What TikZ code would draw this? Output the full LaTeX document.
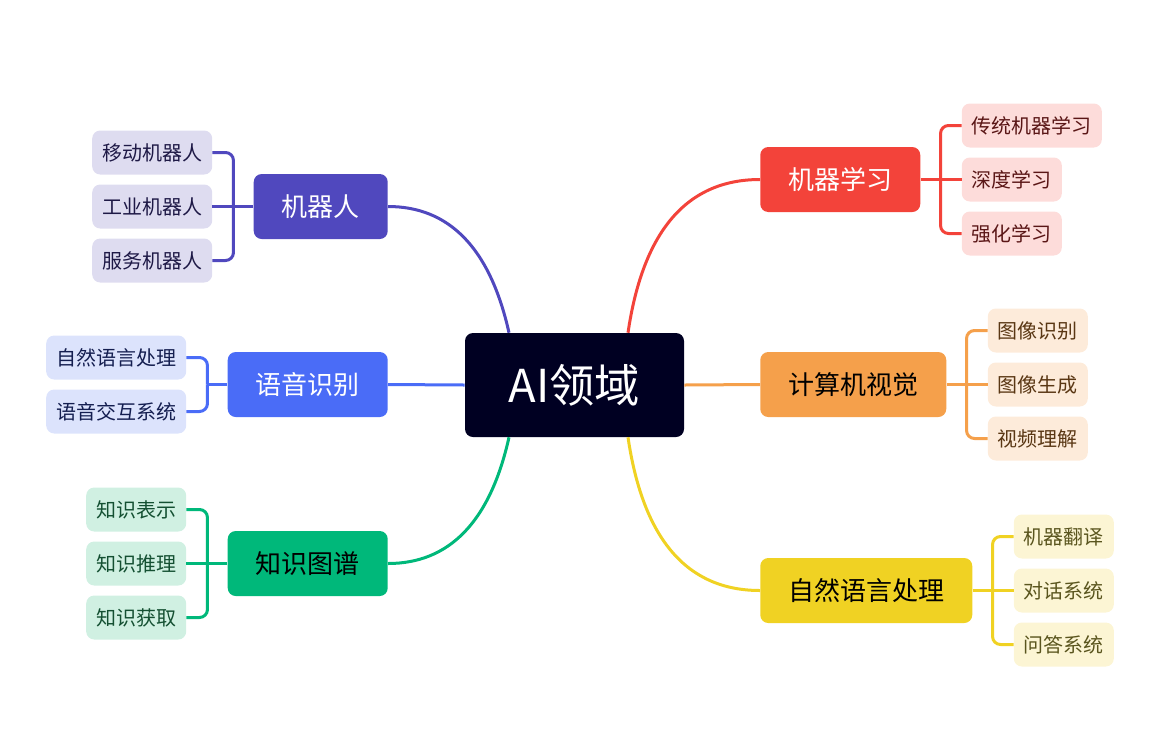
\documentclass[tikz,border=0pt]{standalone}
\usepackage{fontspec}
\setmainfont{Noto Sans CJK SC}
\usetikzlibrary{calc}

\definecolor{aiNavy}{RGB}{0,0,34}
\definecolor{mlRed}{RGB}{243,67,58}
\definecolor{mlLeaf}{RGB}{253,220,218}
\definecolor{mlText}{RGB}{90,22,22}
\definecolor{cvOrange}{RGB}{245,160,75}
\definecolor{cvLeaf}{RGB}{253,235,218}
\definecolor{cvText}{RGB}{90,55,20}
\definecolor{nlpYellow}{RGB}{240,210,35}
\definecolor{nlpLeaf}{RGB}{252,245,212}
\definecolor{nlpText}{RGB}{90,85,30}
\definecolor{rbPurple}{RGB}{80,72,190}
\definecolor{rbLeaf}{RGB}{222,220,240}
\definecolor{rbText}{RGB}{30,25,70}
\definecolor{spBlue}{RGB}{74,108,247}
\definecolor{spLeaf}{RGB}{220,227,252}
\definecolor{spText}{RGB}{20,30,80}
\definecolor{kgGreen}{RGB}{0,184,122}
\definecolor{kgLeaf}{RGB}{208,240,226}
\definecolor{kgText}{RGB}{20,80,50}

\tikzset{
	mainbox/.style={rounded corners=6pt, minimum height=48.75pt, inner xsep=21pt, inner ysep=0pt, font=\fontsize{19.5pt}{23pt}\selectfont},
	leafbox/.style={rounded corners=6pt, minimum height=33pt, inner xsep=7.5pt, inner ysep=0pt, font=\fontsize{15pt}{18pt}\selectfont},
	link/.style={line width=2.25pt},
	bracket/.style={line width=2.25pt, rounded corners=6pt},
}

\begin{document}
\begin{tikzpicture}[x=0.75pt, y=-0.75pt]
			%%%%% START %%%%%
			\useasboundingbox (0,0) rectangle (1166,747);
			
			\node[fill=aiNavy, text=white, rounded corners=6pt, minimum width=164.25pt, minimum height=78pt, font=\fontsize{34pt}{40pt}\selectfont] (ai) at (574.5, 385) {AI领域};
			\coordinate (ai-rb) at ($(ai.north)+(-65.5,0)$);
			\coordinate (ai-ml) at ($(ai.north)+(53.5,0)$);
			\coordinate (ai-kg) at ($(ai.south)+(-65.5,0)$);
			\coordinate (ai-nlp) at ($(ai.south)+(53.5,0)$);
			
			%%%%% right side
			\node[mainbox, fill=mlRed, text=white, anchor=west] (ml) at (760, 179.5) {机器学习};
			\node[mainbox, fill=cvOrange, text=black, anchor=west] (cv) at (760, 384.5) {计算机视觉};
			\node[mainbox, fill=nlpYellow, text=black, anchor=west] (nlp) at (760, 590.5) {自然语言处理};
			
			\node[leafbox, fill=mlLeaf, text=mlText, anchor=west] (ml1) at ($(ml.east)+(41,-54)$) {传统机器学习};
			\node[leafbox, fill=mlLeaf, text=mlText, anchor=west] (ml2) at ($(ml.east)+(41,0)$) {深度学习};
			\node[leafbox, fill=mlLeaf, text=mlText, anchor=west] (ml3) at ($(ml.east)+(41,54)$) {强化学习};
			
			\node[leafbox, fill=cvLeaf, text=cvText, anchor=west] (cv1) at ($(cv.east)+(41,-54)$) {图像识别};
			\node[leafbox, fill=cvLeaf, text=cvText, anchor=west] (cv2) at ($(cv.east)+(41,0)$) {图像生成};
			\node[leafbox, fill=cvLeaf, text=cvText, anchor=west] (cv3) at ($(cv.east)+(41,54)$) {视频理解};
			
			\node[leafbox, fill=nlpLeaf, text=nlpText, anchor=west] (nlp1) at ($(nlp.east)+(41,-54)$) {机器翻译};
			\node[leafbox, fill=nlpLeaf, text=nlpText, anchor=west] (nlp2) at ($(nlp.east)+(41,0)$) {对话系统};
			\node[leafbox, fill=nlpLeaf, text=nlpText, anchor=west] (nlp3) at ($(nlp.east)+(41,54)$) {问答系统};
			
			%%%%% left side
			\node[mainbox, fill=rbPurple, text=white, anchor=east] (rb) at (388, 206.5) {机器人};
			\node[mainbox, fill=spBlue, text=white, anchor=east] (sp) at (388, 384.5) {语音识别};
			\node[mainbox, fill=kgGreen, text=black, anchor=east] (kg) at (388, 563.5) {知识图谱};
			
			\node[leafbox, fill=rbLeaf, text=rbText, anchor=east] (rb1) at ($(rb.west)+(-41,-54)$) {移动机器人};
			\node[leafbox, fill=rbLeaf, text=rbText, anchor=east] (rb2) at ($(rb.west)+(-41,0)$) {工业机器人};
			\node[leafbox, fill=rbLeaf, text=rbText, anchor=east] (rb3) at ($(rb.west)+(-41,54)$) {服务机器人};
			
			\node[leafbox, fill=spLeaf, text=spText, anchor=east] (sp1) at ($(sp.west)+(-41,-27)$) {自然语言处理};
			\node[leafbox, fill=spLeaf, text=spText, anchor=east] (sp2) at ($(sp.west)+(-41,27)$) {语音交互系统};
			
			\node[leafbox, fill=kgLeaf, text=kgText, anchor=east] (kg1) at ($(kg.west)+(-41,-54)$) {知识表示};
			\node[leafbox, fill=kgLeaf, text=kgText, anchor=east] (kg2) at ($(kg.west)+(-41,0)$) {知识推理};
			\node[leafbox, fill=kgLeaf, text=kgText, anchor=east] (kg3) at ($(kg.west)+(-41,54)$) {知识获取};
			
			%%%%% links from the centre
			\draw[link, rbPurple] (ai-rb) .. controls +(-19,-85) and +(61,0) .. (rb.east);
			\draw[link, mlRed] (ai-ml) .. controls +(15,-102) and +(-73,0) .. (ml.west);
			\draw[link, kgGreen] (ai-kg) .. controls +(-19,85) and +(61,0) .. (kg.east);
			\draw[link, nlpYellow] (ai-nlp) .. controls +(15,102) and +(-73,0) .. (nlp.west);
			\draw[link, spBlue] (ai.west) -- (sp.east);
			\draw[link, cvOrange] (ai.east) -- (cv.west);
			
			%%%%% brackets
			\coordinate (mlj) at ($(ml.east)+(20,0)$);
			\draw[link, mlRed] (ml.east) -- (ml2.west);
			\draw[bracket, mlRed] (mlj) |- (ml1.west);
			\draw[bracket, mlRed] (mlj) |- (ml3.west);
			
			\coordinate (cvj) at ($(cv.east)+(20,0)$);
			\draw[link, cvOrange] (cv.east) -- (cv2.west);
			\draw[bracket, cvOrange] (cvj) |- (cv1.west);
			\draw[bracket, cvOrange] (cvj) |- (cv3.west);
			
			\coordinate (nlpj) at ($(nlp.east)+(20,0)$);
			\draw[link, nlpYellow] (nlp.east) -- (nlp2.west);
			\draw[bracket, nlpYellow] (nlpj) |- (nlp1.west);
			\draw[bracket, nlpYellow] (nlpj) |- (nlp3.west);
			
			\coordinate (rbj) at ($(rb.west)+(-20,0)$);
			\draw[link, rbPurple] (rb.west) -- (rb2.east);
			\draw[bracket, rbPurple] (rbj) |- (rb1.east);
			\draw[bracket, rbPurple] (rbj) |- (rb3.east);
			
			\coordinate (spj) at ($(sp.west)+(-20,0)$);
			\draw[link, spBlue] (sp.west) -- (spj);
			\draw[bracket, spBlue] (spj) |- (sp1.east);
			\draw[bracket, spBlue] (spj) |- (sp2.east);
			
			\coordinate (kgj) at ($(kg.west)+(-20,0)$);
			\draw[link, kgGreen] (kg.west) -- (kg2.east);
			\draw[bracket, kgGreen] (kgj) |- (kg1.east);
			\draw[bracket, kgGreen] (kgj) |- (kg3.east);
			
			%%%%% END %%%%%
\end{tikzpicture}
\end{document}
